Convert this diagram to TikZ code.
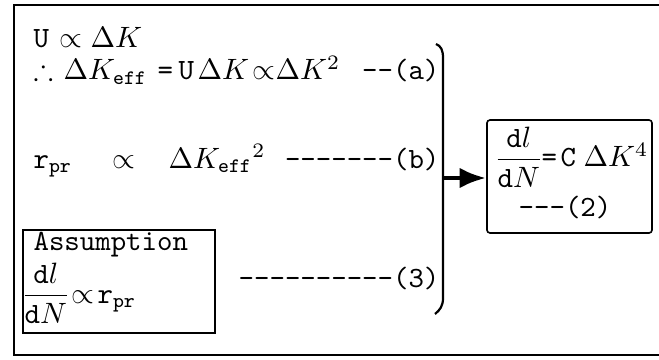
\documentclass[tikz,border=0pt]{standalone}
\usepackage{amsmath,amssymb}
\usetikzlibrary{arrows.meta}
\begin{document}
\begin{tikzpicture}[x=0.34pt,y=-0.34pt,
  txt/.style={inner sep=0pt, font=\ttfamily, anchor=base west},
  rtxt/.style={inner sep=0pt, font=\ttfamily, anchor=base east},
  frameline/.style={line width=0.75pt},
  boxed/.style={draw, line width=0.55pt, inner sep=0pt},
  ]
\useasboundingbox (0,0) rectangle (659,360);
% outer frame (open to the right)
\draw[frameline] (659,5) -- (14,5) -- (14,355) -- (659,355);
% first line
\node[txt] (u1) at (33,48) {U};
\node[txt] (p1) at (59,48) {$\propto$};
\node[txt] (k1) at (90,48) {$\Delta K$};
% line (a)
\node[txt] (th) at (33,80) {$\therefore$};
\node[txt] (keffa) at (63,80) {$\Delta K_{\mathtt{eff}}$};
\node[txt] (eqa) at (157,80) {=};
\node[txt] (ua) at (178,80) {U};
\node[txt] (ka) at (197,80) {$\Delta K$};
\node[txt] (pa) at (252,80) {$\propto$};
\node[txt] (kb) at (275,80) {$\Delta K^2$};
\node[rtxt] (la) at (440,80) {{-}{-}(a)};
% line (b)
\node[txt] (rpr) at (33,168) {r$_{\mathtt{pr}}$};
\node[txt] (prop) at (112,168) {$\propto$};
\node[txt] (keff) at (168,168) {$\Delta K_{\mathtt{eff}}{}^2$};
\node[rtxt] (lb) at (440,168) {{-}{-}{-}{-}{-}{-}{-}(b)};
% assumption box
\node[boxed, minimum width=65.3pt, minimum height=35pt] (asm) at (119,281.5) {};
\node[txt] (asmt) at (33,251) {Assumption};
\node[txt] (asmf) at (24,303) {\nulldelimiterspace=0pt$\dfrac{\mathtt{d}l}{\mathtt{d}N}$};
\node[txt] (asmp) at (71,303) {$\propto$};
\node[txt] (asmr) at (97,303) {r$_{\mathtt{pr}}$};
\node[rtxt] (l3) at (440,287) {{-}{-}{-}{-}{-}{-}{-}{-}{-}{-}(3)};
% brace
\draw[frameline] (436,44) .. controls (441,46) and (443,50) .. (443,58) -- (443,298) .. controls (443,306) and (440,310) .. (435,314);
\coordinate (bmid) at (443,178);
% result box
\node[boxed, rounded corners=1pt, minimum width=56.1pt, minimum height=38.4pt] (res) at (569.5,176.5) {};
\node[txt] (eqf) at (497,167) {\nulldelimiterspace=0pt$\dfrac{\mathtt{d}l}{\mathtt{d}N}$};
\node[txt] (eqs) at (541,167) {=};
\node[txt] (eqc) at (560,167) {C};
\node[txt] (eqk) at (583,167) {$\Delta K^4$};
\node[txt, anchor=base] (l2n) at (565,217) {{-}{-}{-}(2)};
% arrow
\draw[line width=1.6pt, -{Latex[length=9pt,width=7pt]}] (bmid) -- (bmid -| res.west);
\end{tikzpicture}
\end{document}
